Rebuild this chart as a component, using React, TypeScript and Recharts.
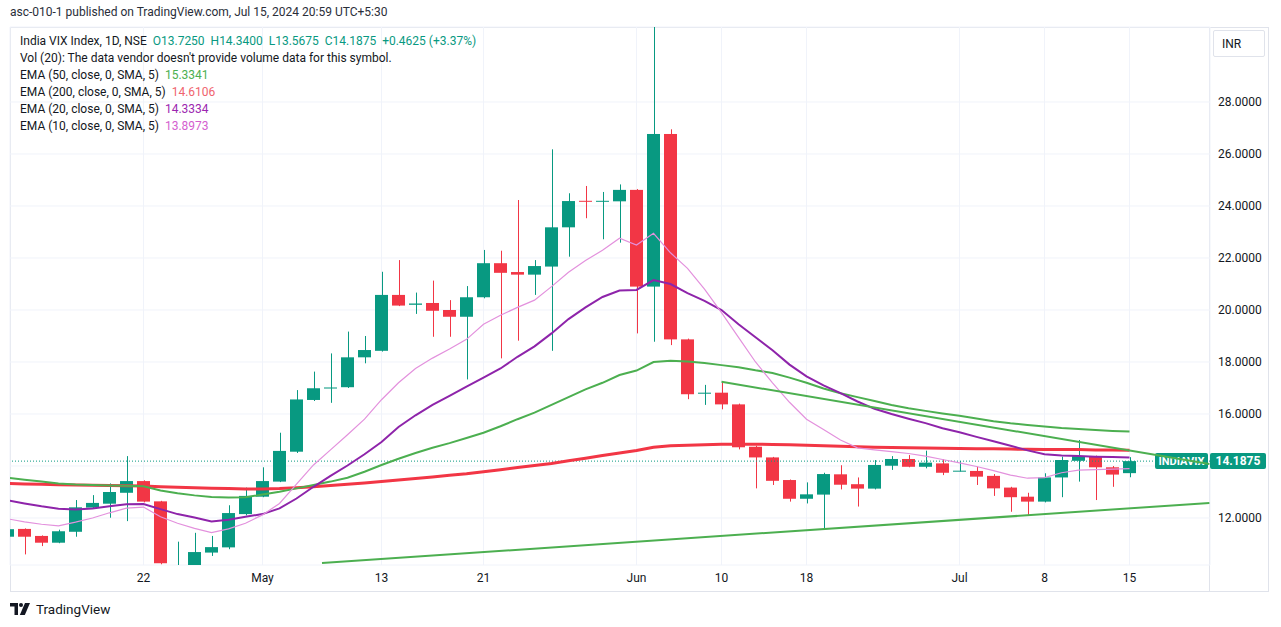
import { ComposedChart, Bar, Line, XAxis, YAxis, CartesianGrid, ReferenceLine } from "recharts"

const UP = "#089981"
const DOWN = "#F23645"
const TEXT = "#131722"
const GRID = "#F0F3FA"
const BORDER = "#E0E3EB"
const FONT = "Roboto, 'Noto Sans', sans-serif"

// NSE trading sessions shown on the daily chart
const dates = [
  "Apr 8", "Apr 9", "Apr 10", "Apr 12", "Apr 15", "Apr 16", "Apr 18", "Apr 19", "Apr 22", "Apr 23",
  "Apr 24", "Apr 25", "Apr 26", "Apr 29", "Apr 30", "May 2", "May 3", "May 6", "May 7", "May 8",
  "May 9", "May 10", "May 13", "May 14", "May 15", "May 16", "May 17", "May 18", "May 21", "May 22",
  "May 23", "May 24", "May 27", "May 28", "May 29", "May 30", "May 31", "Jun 3", "Jun 4", "Jun 5",
  "Jun 6", "Jun 7", "Jun 10", "Jun 11", "Jun 12", "Jun 13", "Jun 14", "Jun 18", "Jun 19", "Jun 20",
  "Jun 21", "Jun 24", "Jun 25", "Jun 26", "Jun 27", "Jun 28", "Jul 1", "Jul 2", "Jul 3", "Jul 4",
  "Jul 5", "Jul 8", "Jul 9", "Jul 10", "Jul 11", "Jul 12", "Jul 15",
]

const opens = [
  11.28, 11.58, 11.31, 11.05, 11.47, 12.4, 12.55, 12.97, 13.42, 12.64,
  10.05, 10.15, 10.67, 10.87, 12.15, 12.82, 13.4, 14.55, 16.54, 16.98,
  17.03, 18.18, 18.43, 20.58, 20.2, 20.27, 20.0, 19.74, 20.49, 21.8,
  21.46, 21.36, 21.67, 23.18, 24.2, 24.17, 24.18, 24.62, 20.9, 26.77,
  18.87, 16.78, 16.82, 16.37, 14.74, 14.33, 13.46, 12.74, 12.9, 13.68,
  13.3, 13.13, 14.01, 14.27, 13.97, 14.1, 13.8, 13.81, 13.62, 13.17,
  12.82, 12.63, 13.56, 14.2, 14.38, 13.95, 13.725,
]
const highs = [
  11.62, 11.6, 11.33, 11.55, 12.69, 12.88, 13.33, 14.38, 13.45, 12.66,
  11.09, 11.43, 11.31, 12.49, 13.17, 13.95, 15.28, 16.92, 17.63, 18.33,
  19.17, 19.0, 21.47, 21.92, 20.67, 21.13, 20.38, 20.92, 22.31, 22.28,
  24.23, 21.92, 26.18, 24.49, 24.77, 24.54, 24.83, 24.65, 31.7, 26.95,
  18.9, 17.12, 17.24, 16.4, 14.78, 14.35, 13.48, 13.37, 13.74, 14.03,
  13.56, 14.23, 14.38, 14.42, 14.59, 14.26, 14.19, 13.97, 13.69, 13.2,
  12.97, 13.72, 14.36, 15.0, 14.4, 14.0, 14.34,
]
const lows = [
  11.22, 10.6, 10.92, 11.03, 11.28, 12.38, 12.01, 11.88, 12.6, 10.22,
  9.95, 10.05, 10.54, 10.8, 12.1, 12.8, 13.38, 14.5, 16.5, 16.43,
  17.0, 17.95, 18.4, 20.15, 19.85, 18.97, 18.97, 17.33, 20.45, 18.14,
  18.82, 20.58, 18.43, 22.05, 23.53, 22.72, 22.59, 19.1, 18.78, 18.65,
  16.57, 16.35, 16.18, 14.64, 13.14, 13.27, 12.63, 12.56, 11.6, 13.1,
  12.44, 13.1, 13.85, 13.95, 13.91, 13.65, 13.79, 13.27, 12.85, 12.24,
  12.08, 12.6, 12.8, 13.4, 12.69, 13.2, 13.5675,
]
const closes = [
  11.57, 11.28, 11.05, 11.49, 12.41, 12.58, 13.0, 13.42, 12.63, 10.26,
  10.15, 10.69, 10.88, 12.19, 12.85, 13.42, 14.58, 16.56, 16.99, 17.02,
  18.18, 18.46, 20.58, 20.17, 20.25, 19.97, 19.74, 20.49, 21.8, 21.43,
  21.36, 21.69, 23.18, 24.19, 24.18, 24.2, 24.62, 20.9, 26.77, 18.87,
  16.76, 16.82, 16.37, 14.72, 14.33, 13.43, 12.74, 12.91, 13.69, 13.28,
  13.13, 14.04, 14.27, 13.97, 14.13, 13.74, 13.82, 13.59, 13.14, 12.8,
  12.63, 13.56, 14.23, 14.38, 13.95, 13.67, 14.1875,
]

const ema50 = [
  13.55, 13.47, 13.4, 13.33, 13.29, 13.27, 13.25, 13.24, 13.22, 13.06,
  12.95, 12.87, 12.81, 12.79, 12.8, 12.9, 13.01, 13.14, 13.27, 13.4,
  13.55, 13.78, 14.04, 14.28, 14.5, 14.7, 14.88, 15.08, 15.28, 15.53,
  15.8, 16.05, 16.35, 16.65, 16.95, 17.2, 17.5, 17.67, 18.0, 18.05,
  18.02, 17.96, 17.88, 17.8, 17.68, 17.58, 17.4, 17.2, 16.98, 16.8,
  16.65, 16.5, 16.35, 16.22, 16.12, 16.02, 15.93, 15.83, 15.72, 15.64,
  15.58, 15.52, 15.46, 15.42, 15.38, 15.35, 15.33,
]
const ema200 = [
  13.33, 13.31, 13.3, 13.28, 13.27, 13.26, 13.25, 13.24, 13.23, 13.2,
  13.18, 13.16, 13.14, 13.13, 13.12, 13.12, 13.13, 13.16, 13.2, 13.25,
  13.3, 13.35, 13.4, 13.46, 13.52, 13.58, 13.64, 13.7, 13.78, 13.86,
  13.94, 14.02, 14.1, 14.2, 14.3, 14.4, 14.5, 14.6, 14.72, 14.78,
  14.8, 14.82, 14.84, 14.84, 14.84, 14.83, 14.82, 14.8, 14.78, 14.76,
  14.74, 14.72, 14.71, 14.7, 14.69, 14.68, 14.67, 14.66, 14.66, 14.65,
  14.64, 14.63, 14.63, 14.63, 14.62, 14.62, 14.61,
]
const ema20 = [
  12.68, 12.56, 12.45, 12.36, 12.33, 12.37, 12.45, 12.53, 12.54, 12.34,
  12.15, 12.02, 11.87, 11.93, 12.05, 12.15, 12.37, 12.75, 13.2, 13.62,
  14.02, 14.45, 14.92, 15.5, 15.95, 16.35, 16.7, 17.05, 17.4, 17.75,
  18.2, 18.6, 19.1, 19.65, 20.1, 20.5, 20.75, 20.77, 21.15, 21.0,
  20.65, 20.35, 20.0, 19.45, 18.95, 18.45, 17.9, 17.45, 17.1, 16.8,
  16.48, 16.2, 16.0, 15.82, 15.65, 15.45, 15.3, 15.12, 14.95, 14.78,
  14.6, 14.45, 14.4, 14.38, 14.36, 14.35, 14.33,
]
const ema10 = [
  11.97, 11.85, 11.76, 11.7, 11.84, 12.0, 12.2, 12.38, 12.42, 12.05,
  11.8, 11.6, 11.44, 11.58, 11.8, 12.12, 12.56, 13.3, 14.04, 14.62,
  15.2, 15.8, 16.55, 17.2, 17.75, 18.15, 18.5, 18.87, 19.45, 19.8,
  20.1, 20.38, 20.9, 21.45, 21.9, 22.3, 22.76, 22.5, 22.95, 22.2,
  21.6, 20.8, 19.9, 18.95, 18.0, 17.2, 16.45, 15.8, 15.4, 15.0,
  14.7, 14.62, 14.55, 14.48, 14.38, 14.25, 14.12, 13.98, 13.82, 13.65,
  13.53, 13.55, 13.74, 13.84, 13.86, 13.88, 13.9,
]

// bar index -> time scale label
const tickIndex = [8, 15, 22, 28, 37, 42, 47, 56, 61, 66]
const tickLabels = ["22", "May", "13", "21", "Jun", "10", "18", "Jul", "8", "15"]
const priceTicks = [12, 14, 16, 18, 20, 22, 24, 26, 28]
const lastPrice = 14.1875

// hand-drawn trend lines, anchored by bar index and price
const risingTrend = [{ x: 18.5, y: 10.27 }, { x: 70.7, y: 12.58 }]
const fallingTrend = [{ x: 42, y: 17.24 }, { x: 70.7, y: 14.08 }]

const rows = dates.map((date, i) => ({
  i,
  date,
  open: opens[i],
  high: highs[i],
  low: lows[i],
  close: closes[i],
  range: [lows[i], highs[i]],
  ema10: ema10[i],
  ema20: ema20[i],
  ema50: ema50[i],
  ema200: ema200[i],
}))

function Candle(props: any) {
  const { x, y, width, height, payload } = props
  if (!payload || height == null) return null
  const { open, high, low, close } = payload
  const color = close >= open ? UP : DOWN
  const k = height / (high - low)
  const py = (v: number) => y + (high - v) * k
  const top = py(Math.max(open, close))
  const bottom = py(Math.min(open, close))
  const cx = Math.round(x + width / 2) + 0.5
  return (
    <g>
      <line x1={cx} x2={cx} y1={y} y2={y + height} stroke={color} strokeWidth={1} />
      <rect x={x} y={top} width={width} height={Math.max(1, bottom - top)} fill={color} />
    </g>
  )
}

function PriceTag(props: any) {
  const vb = props.viewBox
  if (!vb) return null
  const right = vb.x + vb.width
  const y = vb.y
  return (
    <g fontFamily={FONT} fontWeight={700}>
      <rect x={right - 55} y={y - 8} width={53} height={16} rx={2} fill={UP} />
      <text x={right - 28.5} y={y} dy="0.35em" textAnchor="middle" fill="#fff" fontSize={11}>
        INDIAVIX
      </text>
      <rect x={right} y={y - 8} width={56} height={16} rx={2} fill={UP} />
      <text x={right + 28} y={y} dy="0.35em" textAnchor="middle" fill="#fff" fontSize={12}>
        {lastPrice.toFixed(4)}
      </text>
    </g>
  )
}

const legendLines = [
  { label: "EMA (50, close, 0, SMA, 5)", value: "15.3341", color: "#4CAF50" },
  { label: "EMA (200, close, 0, SMA, 5)", value: "14.6106", color: "#F0646E" },
  { label: "EMA (20, close, 0, SMA, 5)", value: "14.3334", color: "#9C27B0" },
  { label: "EMA (10, close, 0, SMA, 5)", value: "13.8973", color: "#D45FCF" },
]

export default function App() {
  return (
    <div
      style={{
        position: "absolute",
        left: 0,
        top: 0,
        width: 1281,
        height: 627,
        background: "#fff",
        fontFamily: FONT,
        color: TEXT,
        overflow: "hidden",
      }}
    >
      <div style={{ position: "absolute", left: 10, top: 5, fontSize: 12, color: "#2A2E39" }}>
        asc-010-1 published on TradingView.com, Jul 15, 2024 20:59 UTC+5:30
      </div>

      <div style={{ position: "absolute", left: 10, top: 27, width: 1257, height: 563, border: `1px solid ${BORDER}` }} />
      <div style={{ position: "absolute", left: 1209, top: 27, width: 1, height: 564, background: BORDER }} />

      <div style={{ position: "absolute", left: 0, top: 0 }}>
        <ComposedChart width={1281} height={627} data={rows} margin={{ top: 27, right: 13, bottom: 36, left: 10 }}>
          <CartesianGrid stroke={GRID} strokeWidth={1} />
          <XAxis
            dataKey="i"
            type="number"
            domain={[0.147, 70.735]}
            allowDataOverflow
            ticks={tickIndex}
            interval={0}
            tickFormatter={(v: number) => tickLabels[tickIndex.indexOf(v)] ?? ""}
            axisLine={false}
            tickLine={false}
            height={26}
            tick={{ fill: TEXT, fontSize: 12, fontFamily: FONT }}
          />
          <YAxis
            orientation="right"
            type="number"
            domain={[10.1923, 30.8846]}
            allowDataOverflow
            ticks={priceTicks}
            interval={0}
            tickFormatter={(v: number) => (v === 14 ? "" : v.toFixed(4))}
            width={58}
            axisLine={false}
            tickLine={false}
            tick={{ fill: TEXT, fontSize: 12, fontFamily: FONT, textAnchor: "start" }}
          />
          <ReferenceLine
            y={lastPrice}
            stroke={UP}
            strokeDasharray="1 2"
            label={<PriceTag />}
          />
          <Bar dataKey="range" barSize={13} shape={(p: any) => <Candle {...p} />} isAnimationActive={false} />
          <Line dataKey="ema200" stroke={DOWN} strokeWidth={3} dot={false} type="linear" isAnimationActive={false} />
          <Line dataKey="ema50" stroke="#4CAF50" strokeWidth={2} dot={false} type="linear" isAnimationActive={false} />
          <Line dataKey="ema20" stroke="#8E24AA" strokeWidth={2} dot={false} type="linear" isAnimationActive={false} />
          <Line dataKey="ema10" stroke="#E391DD" strokeWidth={1.2} dot={false} type="linear" isAnimationActive={false} />
          <ReferenceLine segment={risingTrend} stroke="#4CAF50" strokeWidth={2} ifOverflow="hidden" />
          <ReferenceLine segment={fallingTrend} stroke="#4CAF50" strokeWidth={2} ifOverflow="hidden" />
        </ComposedChart>
      </div>

      <div style={{ position: "absolute", left: 20, top: 33, fontSize: 12, lineHeight: "17px" }}>
        <div>
          India VIX Index, 1D, NSE{" "}
          <span style={{ color: UP }}>&nbsp;O13.7250&nbsp; H14.3400&nbsp; L13.5675&nbsp; C14.1875&nbsp; +0.4625 (+3.37%)</span>
        </div>
        <div>Vol (20): The data vendor doesn't provide volume data for this symbol.</div>
        {legendLines.map((l) => (
          <div key={l.label}>
            {l.label}&nbsp; <span style={{ color: l.color }}>{l.value}</span>
          </div>
        ))}
      </div>

      <div
        style={{
          position: "absolute",
          left: 1213,
          top: 30,
          width: 52,
          height: 27,
          border: `1px solid ${BORDER}`,
          borderRadius: 2,
          fontSize: 12,
          lineHeight: "27px",
          paddingLeft: 8,
          boxSizing: "border-box",
        }}
      >
        INR
      </div>

      <div style={{ position: "absolute", left: 10, top: 601, display: "flex", alignItems: "center", gap: 4 }}>
        <svg width={22} height={14} viewBox="0 0 22 14">
          <path d="M0 1h8v12H4.5V4.5H0z" fill={TEXT} />
          <circle cx={11} cy={3} r={2} fill={TEXT} />
          <path d="M15 1h5l-5.2 12H9.8z" fill={TEXT} />
        </svg>
        <span style={{ fontSize: 13.5, color: TEXT }}>TradingView</span>
      </div>
    </div>
  )
}
